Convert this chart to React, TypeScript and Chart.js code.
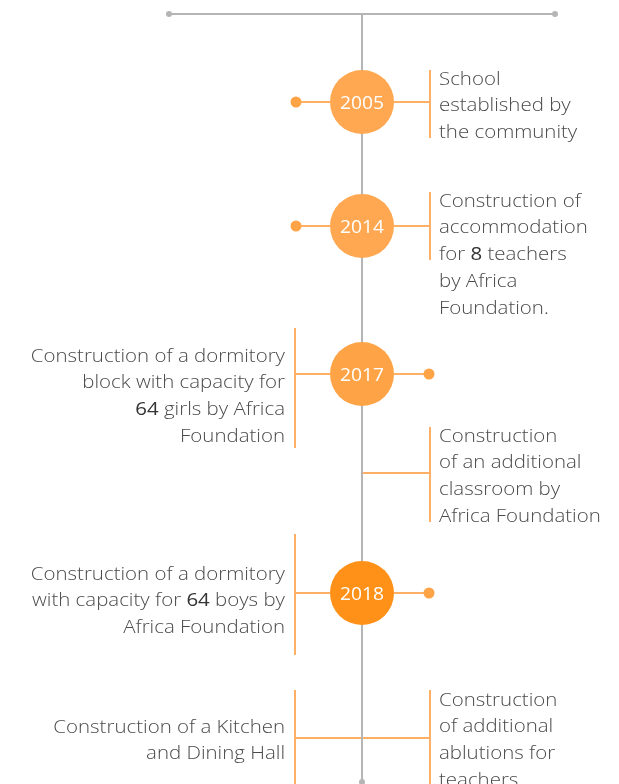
import React, { useEffect, useRef } from "react";
import { Chart, registerables } from "chart.js";
Chart.register(...registerables);

// ---- data ----
const years: (string | null)[] = ["2005", "2014", "2017", null, "2018", null, null];
const milestonePos: number[] = [102, 226, 374, 473, 593, 738, 738];
const sides: ("left" | "right")[] = ["right", "right", "left", "right", "left", "left", "right"];
const descriptions: string[][] = [
  ["School", "established by", "the community"],
  ["Construction of", "accommodation", "for **8** teachers", "by Africa", "Foundation."],
  ["Construction of a dormitory", "block with capacity for", "**64** girls by Africa", "Foundation"],
  ["Construction", "of an additional", "classroom by", "Africa Foundation"],
  ["Construction of a dormitory", "with capacity for **64** boys by", "Africa Foundation"],
  ["Construction of a Kitchen", "and Dining Hall"],
  ["Construction", "of additional", "ablutions for", "teachers"],
];
const yearColors: string[] = ["#FFA751", "#FFA751", "#FFA446", "", "#FF9119", "", ""];

// ---- layout (pixels) ----
const W = 619;
const H = 784;
const SPINE_X = 362;
const SPINE_TOP = 14;
const SPINE_BOTTOM = 782;
const TOPBAR_L = 169;
const TOPBAR_R = 555;
const R_BAR_X = 430;
const L_BAR_X = 295;
const CIRCLE_R = 32;
const LINE_H = 26.7;
const barRanges: [number, number][] = [
  [70, 138],
  [192, 260],
  [328, 448],
  [427, 522],
  [534, 655],
  [690, 790],
  [690, 790],
];
const textTops: number[] = [78, 200, 355, 435, 573, 726, 699];

const GRAY = "#b5b5b5";
const ORANGE_LINE = "#FFB066";
const TEXT = "#4a4a4a";
const TEXT_BOLD = "#333333";
const FONT = "'Open Sans'";
const FONT_SIZE = 18.5;
const FONT_WEIGHT = 300;
const X_STRETCH = 1.105;

export default function App() {
  const ref = useRef<HTMLCanvasElement | null>(null);
  useEffect(() => {
    const canvas = ref.current!;
    const datasets: any[] = [];
    const seg = (pts: { x: number; y: number }[], color: string, width: number) =>
      datasets.push({
        type: "line",
        data: pts,
        borderColor: color,
        borderWidth: width,
        pointRadius: 0,
        fill: false,
        clip: false,
        order: 5,
      });
    // top bar and spine
    seg([{ x: TOPBAR_L, y: SPINE_TOP }, { x: TOPBAR_R, y: SPINE_TOP }], GRAY, 2);
    seg([{ x: SPINE_X, y: SPINE_TOP }, { x: SPINE_X, y: SPINE_BOTTOM }], GRAY, 2);
    datasets.push({
      type: "scatter",
      data: [
        { x: TOPBAR_L, y: SPINE_TOP },
        { x: TOPBAR_R, y: SPINE_TOP },
        { x: SPINE_X, y: SPINE_BOTTOM },
      ],
      pointRadius: 3,
      pointBackgroundColor: GRAY,
      pointBorderWidth: 0,
      clip: false,
      order: 4,
    });
    const dots: { x: number; y: number }[] = [];
    const circles: { x: number; y: number }[] = [];
    const circleColors: string[] = [];
    years.forEach((yr, i) => {
      const y = milestonePos[i];
      const side = sides[i];
      const barX = side === "right" ? R_BAR_X : L_BAR_X;
      const [b0, b1] = barRanges[i];
      seg([{ x: barX, y: b0 }, { x: barX, y: b1 }], ORANGE_LINE, 2);
      if (yr) {
        const edge = side === "right" ? SPINE_X + CIRCLE_R : SPINE_X - CIRCLE_R;
        seg([{ x: edge, y }, { x: barX, y }], ORANGE_LINE, 2);
        const dotX = side === "right" ? L_BAR_X + 1 : R_BAR_X - 1;
        const oEdge = side === "right" ? SPINE_X - CIRCLE_R : SPINE_X + CIRCLE_R;
        seg([{ x: oEdge, y }, { x: dotX, y }], ORANGE_LINE, 2);
        dots.push({ x: dotX, y });
        circles.push({ x: SPINE_X, y });
        circleColors.push(yearColors[i]);
      } else {
        seg([{ x: SPINE_X, y }, { x: barX, y }], ORANGE_LINE, 2);
      }
    });
    datasets.push({
      type: "scatter",
      data: dots,
      pointRadius: 5.5,
      pointBackgroundColor: "#FFA446",
      pointBorderWidth: 0,
      clip: false,
      order: 3,
    });
    datasets.push({
      type: "scatter",
      data: circles,
      pointRadius: CIRCLE_R,
      pointBackgroundColor: circleColors,
      pointBorderWidth: 0,
      clip: false,
      order: 1,
    });

    const textPlugin = {
      id: "timelineText",
      afterDatasetsDraw(chart: any) {
        const ctx = chart.ctx as CanvasRenderingContext2D;
        const xs = chart.scales.x;
        const ys = chart.scales.y;
        ctx.save();
        ctx.textBaseline = "middle";
        // year labels
        years.forEach((yr, i) => {
          if (!yr) return;
          ctx.save();
          ctx.font = `400 18px ${FONT}`;
          ctx.fillStyle = "#ffffff";
          ctx.textAlign = "center";
          ctx.translate(xs.getPixelForValue(SPINE_X), ys.getPixelForValue(milestonePos[i]) + 1.5);
          ctx.scale(1.07, 1);
          ctx.fillText(yr, 0, 0);
          ctx.restore();
        });
        ctx.textAlign = "left";
        descriptions.forEach((lines, i) => {
          const side = sides[i];
          const anchorX = side === "right" ? R_BAR_X + 9 : L_BAR_X - 10;
          lines.forEach((line, li) => {
            const parts = line.split("**").map((t, k) => ({ t, bold: k % 2 === 1 }));
            const fontFor = (b: boolean) => `${b ? 500 : FONT_WEIGHT} ${FONT_SIZE}px ${FONT}`;
            let total = 0;
            parts.forEach((p) => {
              ctx.font = fontFor(p.bold);
              total += ctx.measureText(p.t).width;
            });
            total *= X_STRETCH;
            const startX = side === "right" ? xs.getPixelForValue(anchorX) : xs.getPixelForValue(anchorX) - total;
            const y = ys.getPixelForValue(textTops[i] + li * LINE_H) + 1.5;
            ctx.save();
            ctx.translate(startX, y);
            ctx.scale(X_STRETCH, 1);
            let x = 0;
            parts.forEach((p) => {
              ctx.font = fontFor(p.bold);
              ctx.fillStyle = p.bold ? TEXT_BOLD : TEXT;
              ctx.fillText(p.t, x, 0);
              x += ctx.measureText(p.t).width;
            });
            ctx.restore();
          });
        });
        ctx.restore();
      },
    };

    const chart = new Chart(canvas, {
      type: "scatter",
      data: { datasets },
      options: {
        animation: false,
        responsive: false,
        devicePixelRatio: 1,
        layout: { padding: 0, autoPadding: false },
        plugins: { legend: { display: false }, tooltip: { enabled: false } },
        events: [],
        scales: {
          x: { type: "linear", min: 0, max: W, display: false },
          y: { type: "linear", min: 0, max: H, reverse: true, display: false },
        },
      },
      plugins: [textPlugin],
    });
    return () => chart.destroy();
  }, []);
  return (
    <div style={{ position: "absolute", left: 0, top: 0, width: W, height: H, background: "#fff" }}>
      <canvas ref={ref} width={W} height={H} style={{ display: "block" }} />
    </div>
  );
}
